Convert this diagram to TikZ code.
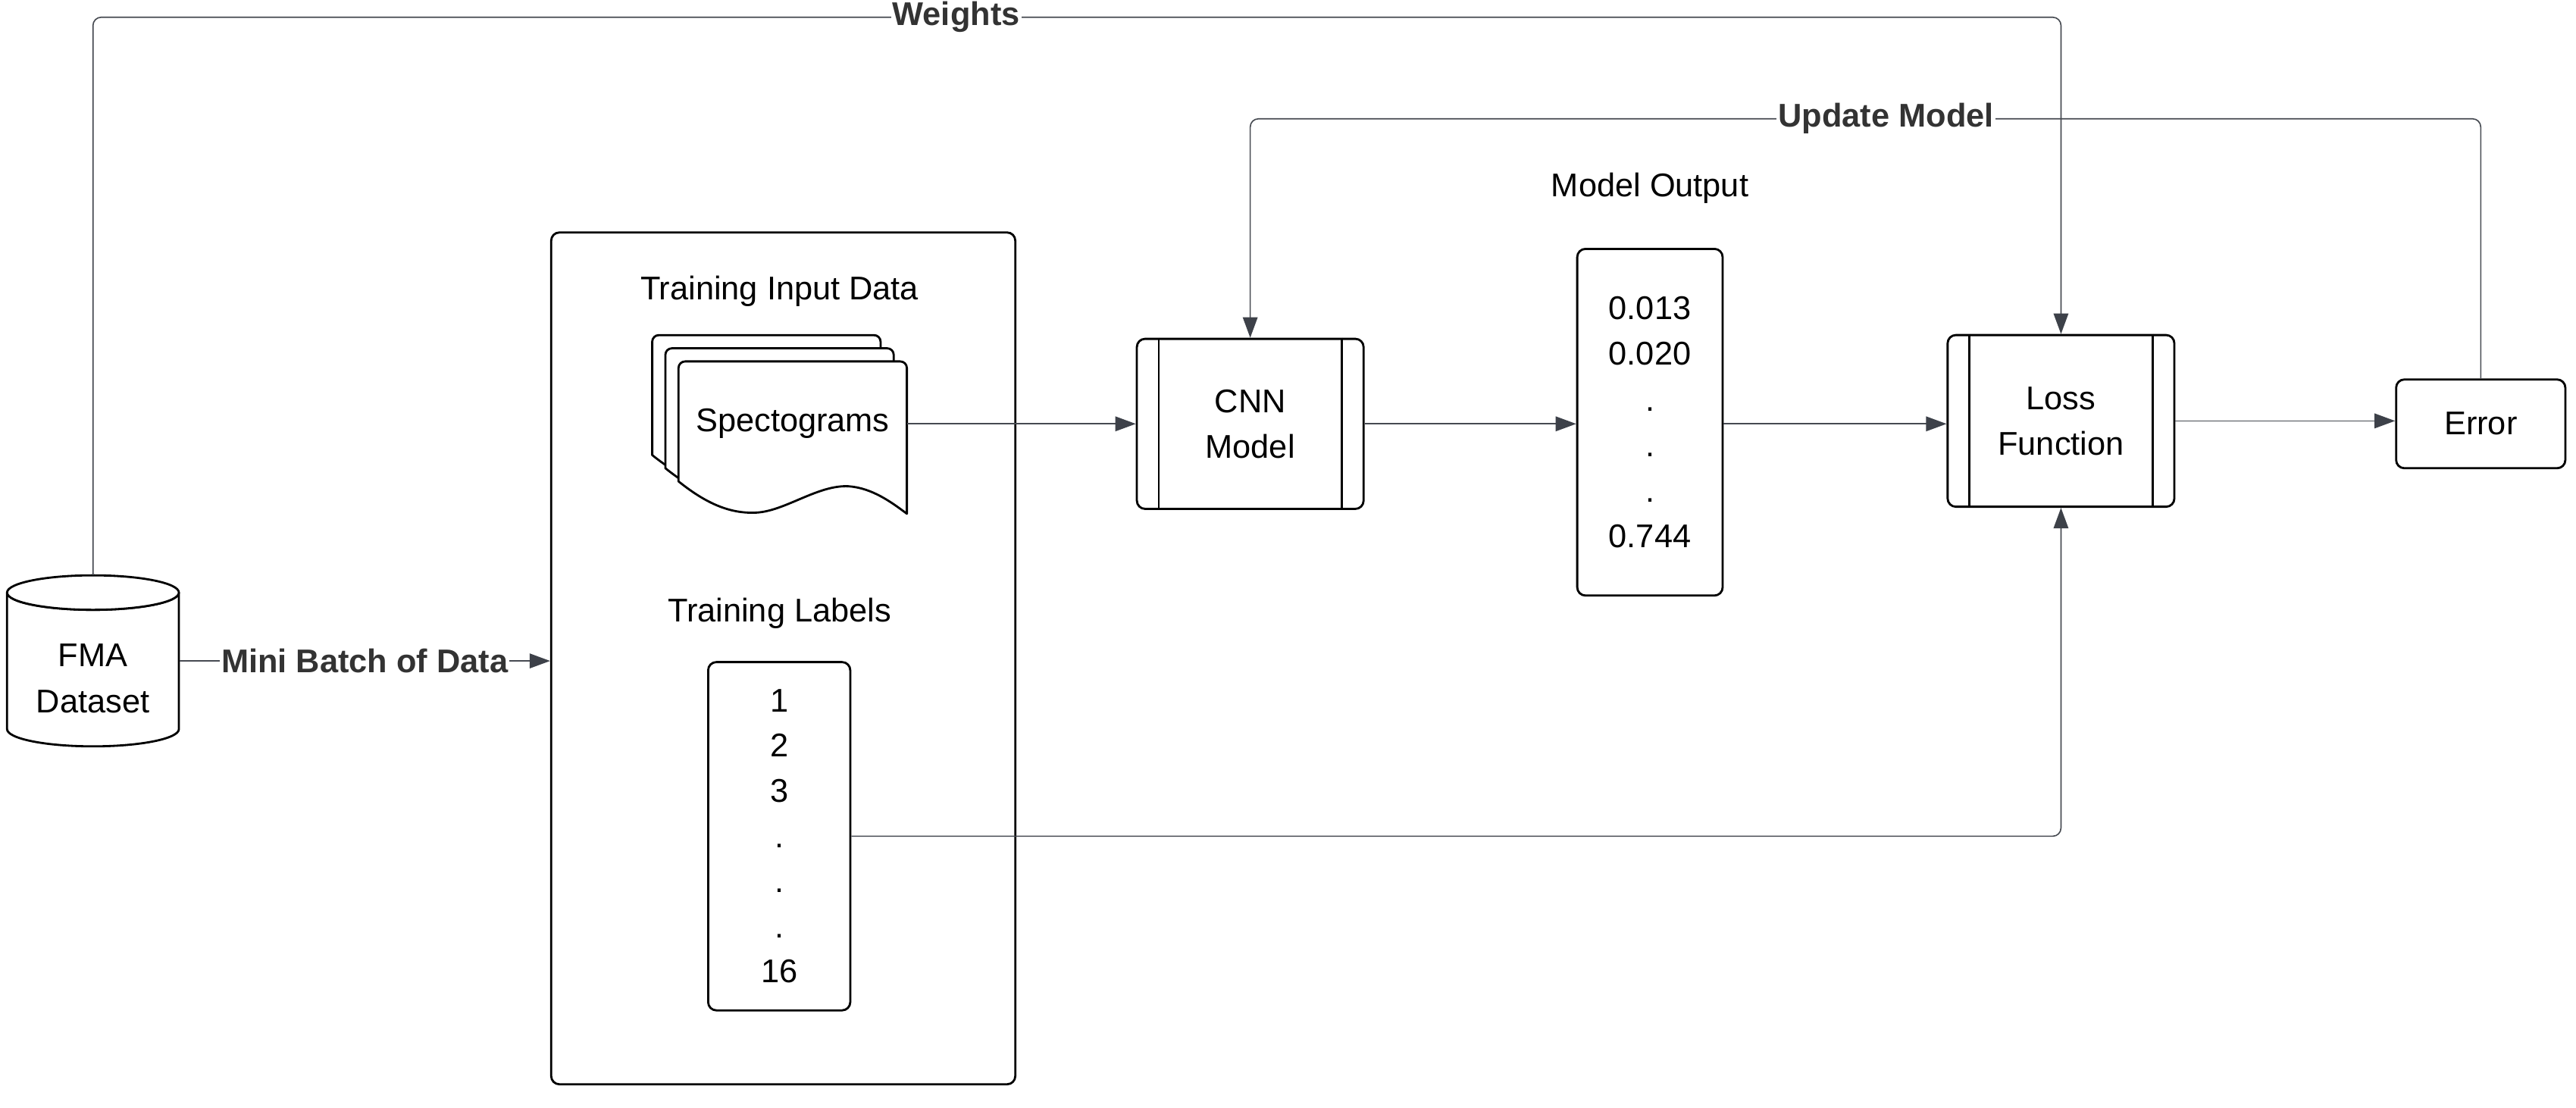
\documentclass[tikz,border=0pt]{standalone}
\usepackage{fontspec}
\setmainfont{Liberation Sans}
\usetikzlibrary{arrows.meta}
\definecolor{linec}{HTML}{464A51}
\definecolor{tipc}{HTML}{3D4149}
\definecolor{labc}{HTML}{333333}
\begin{document}
\begin{tikzpicture}[x=1pt,y=-1pt,
  txt/.style={font=\fontsize{20}{27.7}\selectfont, inner sep=0pt, align=center},
  box/.style={txt, draw=black, line width=1.3pt, rounded corners=5pt, fill=white},
  conn/.style={draw=linec, line width=0.75pt, rounded corners=5pt},
  tip/.style={-{Triangle[length=12.5pt,width=9pt,color=tipc]}},
  lab/.style={fill=white, font=\fontsize{20}{24}\selectfont\bfseries, text=labc, inner xsep=1pt, inner ysep=2pt},
  shapeline/.style={draw=black, line width=1.3pt, fill=white, line join=round},
]
\useasboundingbox (0,0) rectangle (1568,674.4);

% ---------- FMA dataset cylinder ----------
\node[minimum width=104.6pt, minimum height=104pt, inner sep=0pt] (db) at (56.6,402.3) {};
\draw[shapeline] (4.3,360.7) -- (4.3,443.8)
  arc[start angle=180, end angle=0, x radius=52.3, y radius=10.5]
  -- (108.9,360.7)
  arc[start angle=0, end angle=180, x radius=52.3, y radius=10.5] -- cycle;
\draw[shapeline] (56.6,360.7) ellipse[x radius=52.3, y radius=10.5];
\node[txt] (dbtxt) at (56.6,413) {FMA\\Dataset};

% ---------- mini batch container ----------
\node[box, minimum width=282.5pt, minimum height=518.5pt] (batch) at (476.75,400.75) {};
\node[txt] (tid) at (474.5,177.5) {Training Input Data};
\node[txt] (tl) at (474.5,373.5) {Training Labels};

% stacked documents
\foreach \dx/\dy in {-16/-16,-8/-8,0/0} {
  \begin{scope}[shift={(413+\dx,220+\dy)}]
    \draw[shapeline] (0,73) [rounded corners=4pt] -- (0,0) -- (139,0) -- (139,40) [sharp corners]
      -- (139,92.7) .. controls (130,86) and (118,77) .. (103.5,76)
      .. controls (85,75) and (65,91) .. (47.6,92)
      .. controls (30,93) and (15,85) .. (0,73) -- cycle;
  \end{scope}
}
\node[txt, minimum width=139pt] (spec) at (482.5,258) {Spectograms};

\node[box, minimum width=86.5pt, minimum height=212pt, font=\fontsize{20}{27.5}\selectfont] (lbl) at (474.3,509) {1\\2\\3\\.\\.\\.\\16};

% ---------- model ----------
\node[box, minimum width=138pt, minimum height=103.5pt] (cnn) at (761,258) {CNN\\Model};
\node[txt] (mo) at (1004.3,114.5) {Model Output};
\node[box, minimum width=88.5pt, minimum height=211pt] (out) at (1004.3,257) {0.013\\0.020\\.\\.\\.\\0.744};
\node[box, minimum width=138pt, minimum height=104.5pt] (loss) at (1254.5,256.2) {Loss\\Function};
\node[box, minimum width=103pt, minimum height=54pt] (err) at (1510,258) {Error};

\foreach \n in {cnn,loss} {
  \draw[line width=1.3pt] ([xshift=14pt]\n.north west) -- ([xshift=14pt]\n.south west);
  \draw[line width=1.3pt] ([xshift=-14pt]\n.north east) -- ([xshift=-14pt]\n.south east);
}

% ---------- connectors ----------
\coordinate (w1) at (0,10.5);
\coordinate (u1) at (0,72.3);

\draw[conn, tip] (db.east) -- (batch.west |- db.east);
\draw[conn, tip] (spec.east) -- (spec.east -| cnn.west);
\draw[conn, tip] (cnn.east) -- (out.west |- cnn.east);
\draw[conn, tip] (out.east |- cnn.east) -- (loss.west |- cnn.east);
\draw[conn, tip] (loss.east) -- (err.west |- loss.east);
\draw[conn, tip] (db.north) -- (db.north |- w1) -- (loss.north |- w1) -- (loss.north);
\draw[conn, tip] (err.north) -- (err.north |- u1) -- (cnn.north |- u1) -- (cnn.north);
\draw[conn, tip] (lbl.east) -- (lbl.east -| loss.south) -- (loss.south);

% ---------- connector labels ----------
\node[lab] (mbl) at (222,402.3) {Mini Batch of Data};
\node[lab] (wl) at (582,10.5) {Weights};
\node[lab] (ul) at (1148,72.3) {Update Model};
\end{tikzpicture}
\end{document}
